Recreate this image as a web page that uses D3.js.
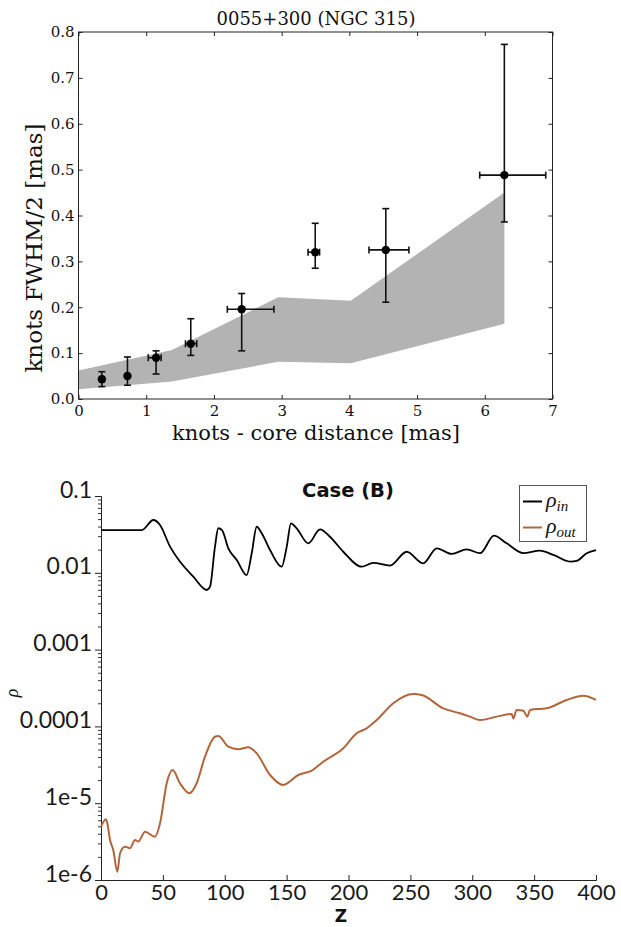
<!DOCTYPE html>
<html><head><meta charset="utf-8">
<script src="https://cdn.jsdelivr.net/npm/d3@7"></script>
<style>
body{margin:0;background:#fff;}
svg{display:block;}
</style></head>
<body>
<svg id="fig" width="621" height="927"></svg>
<script>
// ---------- Top chart data ----------
const knotDist      = [0.345, 0.723, 1.146, 1.658, 2.41, 3.496, 4.538, 6.289];
const knotDistLo    = [0.315, 0.723, 1.03, 1.58, 2.198, 3.39, 4.29, 5.925];
const knotDistHi    = [0.375, 0.723, 1.22, 1.746, 2.886, 3.56, 4.88, 6.90];
const knotHalfWidth = [0.043, 0.050, 0.090, 0.1205, 0.1955, 0.320, 0.325, 0.488];
const knotHWLo      = [0.027, 0.030, 0.0545, 0.095, 0.105, 0.285, 0.211, 0.386];
const knotHWHi      = [0.0595, 0.0916, 0.105, 0.175, 0.230, 0.383, 0.415, 0.773];
const bandX     = [0, 1.38, 2.95, 4.02, 6.29];
const bandUpper = [0.062, 0.107, 0.222, 0.214, 0.450];
const bandLower = [0.021, 0.038, 0.081, 0.078, 0.164];
const topXTicks = [0,1,2,3,4,5,6,7];
const topYTicks = [0,0.1,0.2,0.3,0.4,0.5,0.6,0.7,0.8];

// ---------- Bottom chart data ----------
const zIn   = [0, 33, 42.3, 47.7, 55.8, 63.8, 74.6, 85.4, 88.1, 92.1, 94.8, 97.8, 102.9, 109.7, 117.7, 121.8, 125.8, 129.9, 136.6, 146, 150.1, 153.5, 158.1, 167.5, 177, 185, 195.8, 210.7, 220, 233.5, 247, 260.4, 271.3, 283.4, 295.5, 306.3, 317.6, 327.8, 341.3, 354.7, 365.5, 379, 384.4, 392.5, 400];
const rhoIn = [0.0360, 0.0360, 0.0487, 0.0419, 0.0219, 0.0140, 0.00890, 0.00597, 0.00659, 0.0219, 0.0380, 0.0360, 0.0208, 0.0147, 0.00935, 0.0180, 0.0398, 0.0327, 0.0198, 0.0120, 0.0219, 0.0441, 0.0380, 0.0242, 0.0368, 0.0295, 0.0188, 0.0120, 0.0135, 0.0124, 0.0188, 0.0133, 0.0208, 0.0176, 0.0202, 0.0180, 0.0304, 0.0242, 0.0180, 0.0194, 0.0171, 0.0140, 0.0143, 0.0180, 0.0198];
const zOut   = [0, 4, 5.1, 7.3, 9.9, 13.2, 15.4, 19.4, 23.4, 27.5, 30.1, 35.6, 43.6, 47.7, 53.1, 57.9, 63.8, 71.4, 77.3, 84, 92.1, 94.8, 102.9, 110.9, 119, 125.8, 136.6, 147.3, 159.4, 170.3, 179.6, 195.8, 206.6, 214.7, 222.8, 236.2, 252.4, 259.2, 276.6, 290.1, 298.2, 306.3, 319.8, 331.9, 333.2, 335.9, 341.3, 344.5, 346.7, 360.2, 376.3, 389.7, 400];
const rhoOut = [4.94e-6, 6.17e-6, 5.47e-6, 3.32e-6, 2.46e-6, 1.28e-6, 2.23e-6, 2.72e-6, 2.59e-6, 3.32e-6, 3.16e-6, 4.26e-6, 3.66e-6, 5.47e-6, 1.82e-5, 2.70e-5, 1.82e-5, 1.35e-5, 1.82e-5, 4.03e-5, 7.34e-5, 7.5e-5, 5.44e-5, 5.04e-5, 5.35e-5, 4.46e-5, 2.33e-5, 1.73e-5, 2.33e-5, 2.65e-5, 3.47e-5, 5.19e-5, 8.13e-5, 9.44e-5, 1.21e-4, 2.0e-4, 2.64e-4, 2.56e-4, 1.72e-4, 1.48e-4, 1.34e-4, 1.21e-4, 1.34e-4, 1.45e-4, 1.27e-4, 1.64e-4, 1.60e-4, 1.34e-4, 1.64e-4, 1.72e-4, 2.21e-4, 2.51e-4, 2.21e-4];
const bottomXTicks = [0,50,100,150,200,250,300,350,400];
const bottomYTicks = [0.1, 0.01, 0.001, 0.0001, 1e-5, 1e-6];
const bottomYTickLabels = ["0.1","0.01","0.001","0.0001","1e-5","1e-6"];

const svg = d3.select("#fig");
const serif = "'DejaVu Serif', serif";
const sans = "Lato, 'Open Sans', sans-serif";
const wideSans = "'DejaVu Sans', sans-serif";

// ================= TOP CHART =================
const tx = d3.scaleLinear().domain([0,7]).range([78.5,552.5]);
const ty = d3.scaleLinear().domain([0,0.8]).range([399,32]);
const topG = svg.append("g");

const bandPts = bandX.map((x,i)=>({x, lo: bandLower[i], hi: bandUpper[i]}));
topG.append("path")
  .datum(bandPts)
  .attr("fill","#b3b3b3")
  .attr("d", d3.area().x(d=>tx(d.x)).y0(d=>ty(d.lo)).y1(d=>ty(d.hi)));

function styleAxis(g){
  g.select(".domain").remove();
  g.selectAll(".tick line").attr("stroke","#222").attr("stroke-width",1);
  g.selectAll(".tick text").attr("font-family",serif).attr("font-size",15).attr("fill","#111");
}
topG.append("g").attr("transform","translate(0,399)")
  .call(d3.axisBottom(tx).tickValues(topXTicks).tickSize(-4).tickPadding(6).tickFormat(d3.format("d")))
  .call(styleAxis);
topG.append("g").attr("transform","translate(0,32)")
  .call(d3.axisTop(tx).tickValues(topXTicks).tickSize(-4).tickFormat(""))
  .call(styleAxis);
topG.append("g").attr("transform","translate(78.5,0)")
  .call(d3.axisLeft(ty).tickValues(topYTicks).tickSize(-4).tickPadding(4).tickFormat(d3.format(".1f")))
  .call(styleAxis);
topG.append("g").attr("transform","translate(552.5,0)")
  .call(d3.axisRight(ty).tickValues(topYTicks).tickSize(-4).tickFormat(""))
  .call(styleAxis);
topG.append("rect").attr("x",78.5).attr("y",32).attr("width",474).attr("height",367)
  .attr("fill","none").attr("stroke","#222").attr("stroke-width",1);

const pts = knotDist.map((x,i)=>({x, y: knotHalfWidth[i], xl: knotDistLo[i], xh: knotDistHi[i], yl: knotHWLo[i], yh: knotHWHi[i]}));
const eb = topG.append("g").attr("stroke","#111").attr("stroke-width",1.6).attr("fill","none");
pts.forEach(p=>{
  eb.append("line").attr("x1",tx(p.x)).attr("x2",tx(p.x)).attr("y1",ty(p.yl)).attr("y2",ty(p.yh));
  [p.yl,p.yh].forEach(v=>eb.append("line").attr("x1",tx(p.x)-3.5).attr("x2",tx(p.x)+3.5).attr("y1",ty(v)).attr("y2",ty(v)));
  if (p.xh > p.xl){
    eb.append("line").attr("x1",tx(p.xl)).attr("x2",tx(p.xh)).attr("y1",ty(p.y)).attr("y2",ty(p.y));
    [p.xl,p.xh].forEach(v=>eb.append("line").attr("x1",tx(v)).attr("x2",tx(v)).attr("y1",ty(p.y)-3.5).attr("y2",ty(p.y)+3.5));
  }
});
topG.append("g").selectAll("circle").data(pts).join("circle")
  .attr("cx",d=>tx(d.x)).attr("cy",d=>ty(d.y)).attr("r",4.2).attr("fill","#000");

topG.append("text").attr("x",316).attr("y",25).attr("text-anchor","middle")
  .attr("font-family",serif).attr("font-size",18).attr("fill","#111").text("0055+300 (NGC 315)");
topG.append("text").attr("x",316).attr("y",440).attr("text-anchor","middle")
  .attr("font-family",serif).attr("font-size",21).attr("fill","#111").text("knots - core distance [mas]");
topG.append("text").attr("transform","translate(42,248) rotate(-90)").attr("text-anchor","middle")
  .attr("font-family",serif).attr("font-size",23)
  .attr("fill","#111").text("knots FWHM/2 [mas]");

// ================= BOTTOM CHART =================
const bx = d3.scaleLinear().domain([0,400]).range([101,596]);
const by = d3.scaleLog().domain([1e-6,0.1]).range([880,496]);
const bot = svg.append("g");

const minorVals = [];
for (let e=-6; e<-1; e++) for (let m=2; m<=9; m++) minorVals.push(m*Math.pow(10,e));
bot.append("g").attr("transform","translate(101,0)")
  .call(d3.axisLeft(by).tickValues(minorVals).tickSize(3).tickFormat(""))
  .call(g=>{g.select(".domain").remove(); g.selectAll(".tick line").attr("stroke","#333");});
bot.append("g").attr("transform","translate(101,0)")
  .call(d3.axisLeft(by).tickValues(bottomYTicks).tickSize(6).tickPadding(3)
        .tickFormat((d,i)=>bottomYTickLabels[i]))
  .call(g=>{
    g.select(".domain").attr("stroke","#222");
    g.selectAll(".tick line").attr("stroke","#222");
    g.selectAll(".tick text").attr("font-family",sans).attr("font-size",23).attr("dy","0.05em").attr("fill","#1a1a1a");
  });
bot.append("g").attr("transform","translate(0,880)")
  .call(d3.axisBottom(bx).tickValues(bottomXTicks).tickSize(-5).tickPadding(4).tickFormat(d3.format("d")))
  .call(g=>{
    g.select(".domain").attr("stroke","#222");
    g.selectAll(".tick line").attr("stroke","#222");
    g.selectAll(".tick text").attr("font-family",sans).attr("font-size",22).attr("fill","#1a1a1a");
  });

const inPts = zIn.map((z,i)=>[z,rhoIn[i]]);
const outPts = zOut.map((z,i)=>[z,rhoOut[i]]);
const ln = d3.line().x(d=>bx(d[0])).y(d=>by(d[1])).curve(d3.curveMonotoneX);
bot.append("path").datum(outPts).attr("d",ln).attr("fill","none").attr("stroke","#b0663a").attr("stroke-width",2);
bot.append("path").datum(inPts).attr("d",ln).attr("fill","none").attr("stroke","#000").attr("stroke-width",1.8);

bot.append("text").attr("x",348).attr("y",497).attr("text-anchor","middle")
  .attr("font-family",wideSans).attr("font-weight","bold").attr("font-size",19.5).attr("fill","#111").text("Case (B)");
bot.append("text").attr("x",341).attr("y",922).attr("text-anchor","middle")
  .attr("font-family",wideSans).attr("font-weight","bold").attr("font-size",17).attr("fill","#111").text("Z");
bot.append("text").attr("transform","translate(18,693) rotate(-90)").attr("text-anchor","middle")
  .attr("font-family","'Liberation Serif', serif").attr("font-style","italic").attr("font-size",18).attr("fill","#111").text("ρ");

const lg = bot.append("g");
lg.append("rect").attr("x",519.5).attr("y",485.5).attr("width",67).attr("height",56)
  .attr("fill","#fff").attr("stroke","#555").attr("stroke-width",1);
const legendItems = [{name:"in", color:"#000", y:501.5},{name:"out", color:"#b0663a", y:527.5}];
legendItems.forEach(it=>{
  lg.append("line").attr("x1",523).attr("x2",542).attr("y1",it.y).attr("y2",it.y)
    .attr("stroke",it.color).attr("stroke-width",2);
  const t = lg.append("text").attr("x",546).attr("y",it.y+5)
    .attr("font-family","'Liberation Serif', serif").attr("font-style","italic").attr("font-size",22).attr("fill","#111");
  t.append("tspan").text("ρ");
  t.append("tspan").attr("dy",4).attr("font-size",15).text(it.name);
});
</script>
</body></html>
